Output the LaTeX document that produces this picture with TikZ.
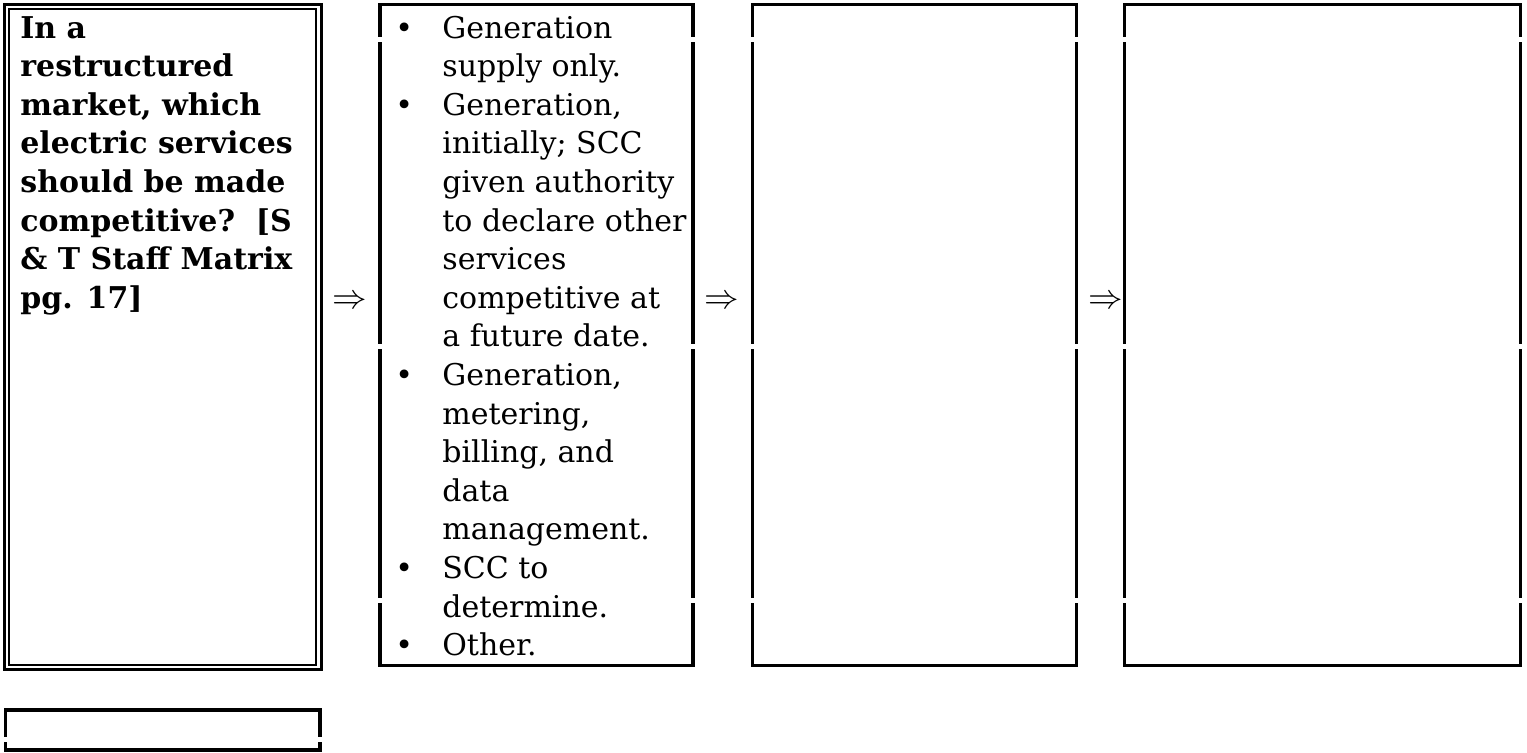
\documentclass[tikz,border=0pt]{standalone}
\usepackage{fontspec}
\setmainfont{DejaVu Serif}
\newcommand\bul{\makebox[23.5pt][l]{\textbullet}}
\begin{document}
\begin{tikzpicture}[x=0.5pt,y=-0.5pt]
    \tikzstyle{box}=[draw=black,line width=1.6pt,inner sep=0pt]
    \tikzstyle{inner box}=[draw=black,line width=1pt,inner sep=0pt]
    \tikzstyle{gap}=[fill=white,draw=none]
    \tikzstyle{cell text}=[anchor=base west,inner sep=0pt,font=\fontsize{15}{19.3}\selectfont]
    \tikzstyle{implies}=[anchor=base,inner sep=0pt,font=\fontsize{16.5}{19.3}\selectfont]

    \useasboundingbox (0,0) rectangle (1527,752);

    % Draw the question box with its double frame
    \node[box,minimum width=158.5pt,minimum height=332.5pt] (Q-out) at (163,337) {};
    \node[inner box,minimum width=153.5pt,minimum height=328pt] (Q) at (162.5,337) {};

    % Draw the answer boxes
    \node[box,minimum width=156.5pt,minimum height=330.5pt] (A-1) at (536.5,335) {};
    \node[box,minimum width=162pt,minimum height=330.5pt] (A-2) at (914.5,335) {};
    \node[box,minimum width=198pt,minimum height=330.5pt] (A-3) at (1322.5,335) {};

    % Draw the small box below
    \node[box,minimum width=157.25pt,minimum height=20pt] (N) at (162.75,730) {};

    % Breaks in the frames
    \foreach \x in {380,693,752.5,1076.5,1124.5,1520.5}
        \foreach \y in {39,346,600}
            \fill[gap] (\x-3,\y-2.5) rectangle (\x+3,\y+2.5);
    \foreach \x in {5.5,320}
        \fill[gap] (\x-3,737) rectangle (\x+3,742);

    % Texts
    \node[cell text] (Q-text) at (20,38) {\bfseries
        \begin{tabular}[t]{@{}l@{}}
        In a\\
        restructured\\
        market, which\\
        electric services\\
        should be made\\
        competitive?~~[S\\
        \& T Staff Matrix\\
        pg. 17]
        \end{tabular}};

    \node[cell text] (A-1-text) at (395,38) {%
        \begin{tabular}[t]{@{}l@{}l@{}}
        \bul & Generation\\
             & supply only.\\
        \bul & Generation,\\
             & initially; SCC\\
             & given authority\\
             & to declare other\\
             & services\\
             & competitive at\\
             & a future date.\\
        \bul & Generation,\\
             & metering,\\
             & billing, and\\
             & data\\
             & management.\\
        \bul & SCC to\\
             & determine.\\
        \bul & Other.
        \end{tabular}};

    % Arrows between the boxes
    \node[implies] (I-1) at (350,308) {$\Rightarrow$};
    \node[implies] (I-2) at (722,308) {$\Rightarrow$};
    \node[implies] (I-3) at (1106,308) {$\Rightarrow$};
\end{tikzpicture}
\end{document}
